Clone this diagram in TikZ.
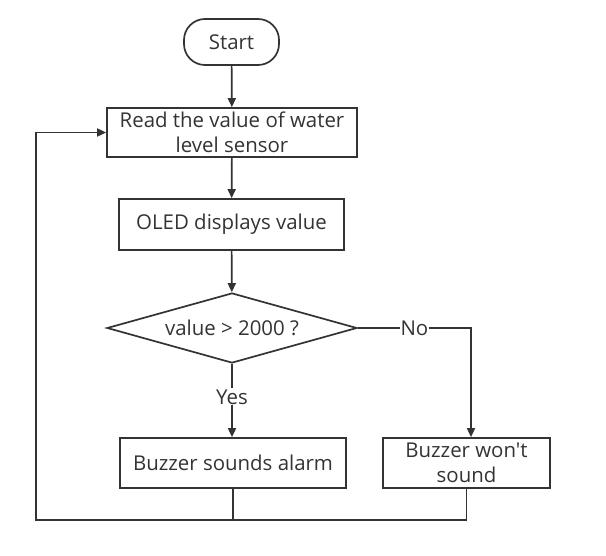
\documentclass[tikz,border=0pt]{standalone}
\usepackage{fontspec}
\newfontfamily\flowfont{Open Sans}
\usetikzlibrary{arrows.meta,shapes.geometric}
\definecolor{ink}{HTML}{333333}
\begin{document}
\begin{tikzpicture}[x=1bp,y=-1bp,
  every node/.style={font=\flowfont\fontsize{20.5}{25}\selectfont, text=ink},
  boxnode/.style={draw=ink, line width=1.7bp, rectangle, inner sep=0pt, align=center},
  conn/.style={draw=ink, line width=1.7bp},
  arr/.style={conn, -{Triangle[length=9bp,width=8bp]}},
  lbl/.style={fill=white, inner sep=1bp}]
\useasboundingbox (0,0) rectangle (606,556);
\node[boxnode, rounded corners=21bp, minimum width=95bp, minimum height=46bp] (start) at (231.5,42) {Start};
\node[boxnode, minimum width=250bp, minimum height=49bp] (read) at (232,132.5) {Read the value of water\\level sensor};
\node[boxnode, minimum width=225bp, minimum height=51bp] (oled) at (231.5,224.5) {OLED displays value};
\node[boxnode, diamond, aspect=3.57, minimum width=250bp, minimum height=70bp] (dec) at (232,328) {value > 2000 ?};
\node[boxnode, minimum width=226bp, minimum height=50bp] (yes) at (233,463) {Buzzer sounds alarm};
\node[boxnode, minimum width=167bp, minimum height=50bp] (no) at (466.5,463) {Buzzer won't\\sound};
\coordinate (loop) at (36,520);
\coordinate (noturn) at (471,328);
\draw[arr] (start) -- (read);
\draw[arr] (read) -- (oled);
\draw[arr] (oled) -- (dec);
\draw[arr] (dec.south) -- node[lbl, pos=0.45] (yeslbl) {Yes} (dec.south |- yes.north);
\draw[arr] (dec.east) -- node[lbl, pos=0.5] (nolbl) {No} (noturn) -- (noturn |- no.north);
\draw[conn] (yes.south) -- (yes.south |- loop);
\draw[arr] (no.south) |- (loop) |- (read.west);
\end{tikzpicture}
\end{document}
